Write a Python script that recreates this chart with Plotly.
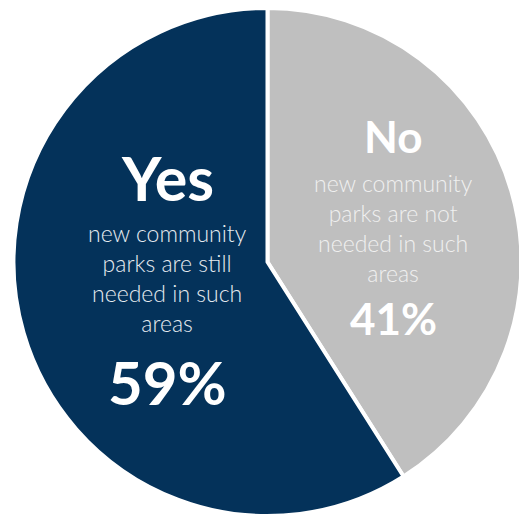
import plotly.graph_objects as go

labels = ["No", "Yes"]
values = [41, 59]
subtitles = [
    "new community<br>parks are not<br>needed in such<br>areas",
    "new community<br>parks are still<br>needed in such<br>areas",
]
colors = ["#BFBFBF", "#04325A"]
sub_colors = ["#F0F0F0", "#E6EBF0"]

# page has an 8px body margin; work in page coords and offset
OFF = 8
W, H = 527 - OFF, 518 - OFF
cx, cy, r = 267.5 - OFF, 262 - OFF, 254

fig = go.Figure(go.Pie(
    labels=labels, values=values, sort=False, direction="clockwise", rotation=0,
    marker=dict(colors=colors, line=dict(color="white", width=4)),
    textinfo="none", hoverinfo="label+percent", showlegend=False,
    domain=dict(x=[(cx - r) / W, (cx + r) / W],
                y=[max(0, (H - cy - r) / H), min(1, (H - cy + r) / H)]),
))

layout_pos = {
    "No": dict(x=393, ty=136, ts=44, sy=228, py=318, ps=44),
    "Yes": dict(x=167, ty=178, ts=61, sy=278, py=382, ps=60),
}

def px(x):
    return (x - OFF) / W

def py(y):
    return 1 - (y - OFF) / H

ann = []
for lab, val, sub, sc in zip(labels, values, subtitles, sub_colors):
    p = layout_pos[lab]
    ann.append(dict(x=px(p["x"]), y=py(p["ty"]), xref="paper", yref="paper",
                    text="<b>%s</b>" % lab, showarrow=False, xanchor="center", yanchor="middle",
                    font=dict(family="Lato", size=p["ts"], color="white")))
    ann.append(dict(x=px(p["x"]), y=py(p["sy"]), xref="paper", yref="paper",
                    text=sub, showarrow=False, xanchor="center", yanchor="middle",
                    font=dict(family="Lato", size=23, weight=300, color=sc)))
    ann.append(dict(x=px(p["x"]), y=py(p["py"]), xref="paper", yref="paper",
                    text="<b>%d%%</b>" % val, showarrow=False, xanchor="center", yanchor="middle",
                    font=dict(family="Lato", size=p["ps"], color="white")))

fig.update_layout(width=W, height=H, margin=dict(l=0, r=0, t=0, b=0),
                  paper_bgcolor="white", plot_bgcolor="white", annotations=ann)
fig.write_html("out.html")
